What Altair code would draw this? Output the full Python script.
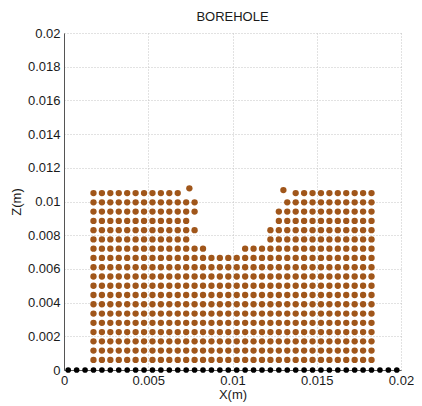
import altair as alt
import pandas as pd

# Particle lattice columns (x, m) and rows (z, m)
COLS_X = [0.00175, 0.00225, 0.00275, 0.00325, 0.00375, 0.00425, 0.00475, 0.00525,
          0.00575, 0.00625, 0.00675, 0.00725, 0.00775, 0.00825, 0.00875, 0.00925,
          0.00975, 0.01025, 0.01075, 0.01125, 0.01175, 0.01225, 0.01275, 0.01325,
          0.01375, 0.01425, 0.01475, 0.01525, 0.01575, 0.01625, 0.01675, 0.01725,
          0.01775, 0.01825]
ROWS_Z = [0.0006, 0.00115, 0.0017, 0.00225, 0.0028, 0.00335, 0.0039, 0.00445,
          0.005, 0.00555, 0.0061, 0.00665, 0.0072, 0.00775, 0.0083, 0.00885,
          0.0094, 0.00995, 0.0105]

# For each row: last column index of the left block and first column index of
# the right block (rows 0..11 are complete)
LEFT_END = [33, 33, 33, 33, 33, 33, 33, 33, 33, 33, 33, 33, 13, 11, 12, 11, 12, 12, 10]
RIGHT_START = [34, 34, 34, 34, 34, 34, 34, 34, 34, 34, 34, 34, 18, 21, 21, 22, 22, 23, 24]

# Loose particles lifted at the rim of the borehole
EXTRA_X = [0.00744, 0.01302]
EXTRA_Z = [0.01078, 0.01068]

# Wall particles along z = 0
WALL_X = [0.00025, 0.00075, 0.00125, 0.00175, 0.00225, 0.00275, 0.00325, 0.00375,
          0.00425, 0.00475, 0.00525, 0.00575, 0.00625, 0.00675, 0.00725, 0.00775,
          0.00825, 0.00875, 0.00925, 0.00975, 0.01025, 0.01075, 0.01125, 0.01175,
          0.01225, 0.01275, 0.01325, 0.01375, 0.01425, 0.01475, 0.01525, 0.01575,
          0.01625, 0.01675, 0.01725, 0.01775, 0.01825, 0.01875, 0.01925, 0.01975]
WALL_Z = [0.0] * len(WALL_X)

X_TICKS = [0, 0.005, 0.01, 0.015, 0.02]
Z_TICKS = [0, 0.002, 0.004, 0.006, 0.008, 0.01, 0.012, 0.014, 0.016, 0.018, 0.02]

px, pz = [], []
for j, z in enumerate(ROWS_Z):
    for i, x in enumerate(COLS_X):
        if i <= LEFT_END[j] or i >= RIGHT_START[j]:
            px.append(x)
            pz.append(z)
px += EXTRA_X
pz += EXTRA_Z

soil = pd.DataFrame({"x": px, "z": pz})
wall = pd.DataFrame({"x": WALL_X, "z": WALL_Z})

xs = alt.Scale(domain=[0, 0.02], nice=False)
zs = alt.Scale(domain=[0, 0.02], nice=False)


def make_axis(vals, title, tpad):
    return alt.Axis(values=vals, format="~g", title=title, tickCount=len(vals),
                    grid=True, gridDash=[1, 2], gridColor="#c4c4c4", tickSize=0,
                    domainColor="#555555", labelPadding=4, titlePadding=tpad,
                    labelFontSize=13, titleFontSize=13, titleFontWeight="normal",
                    labelColor="#1a1a1a", titleColor="#1a1a1a", labelFlush=False,
                    labelOverlap=False)


def enc(chart):
    return chart.encode(
        x=alt.X("x:Q", scale=xs, axis=make_axis(X_TICKS, "X(m)", 1)),
        y=alt.Y("z:Q", scale=zs, axis=make_axis(Z_TICKS, "Z(m)", 4)),
    )


soil_layer = enc(alt.Chart(soil).mark_point(filled=True, size=40, opacity=1,
                                            color="#a0561a"))
wall_layer = enc(alt.Chart(wall).mark_point(filled=True, size=32, opacity=1,
                                            color="#000000"))

chart = alt.layer(soil_layer, wall_layer).properties(
    width=337, height=337,
    title=alt.TitleParams("BOREHOLE", fontSize=13, fontWeight="normal",
                          color="#1a1a1a", offset=3),
    autosize=alt.AutoSizeParams(type="none"),
    padding={"left": 56, "top": 25, "right": 13, "bottom": 36},
).configure(font="Liberation Sans").configure_view(stroke=None)

chart.save("out.html", embed_options={"renderer": "svg", "actions": False})
